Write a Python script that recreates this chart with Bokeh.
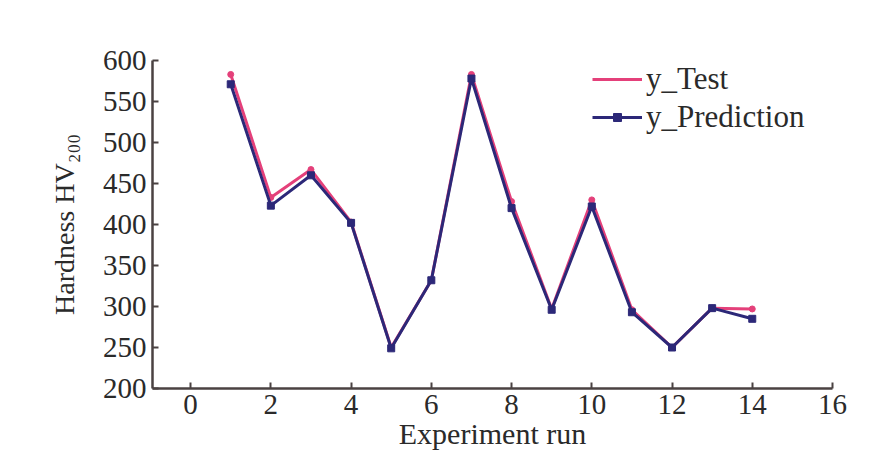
from bokeh.plotting import figure
from bokeh.models import Legend, LegendItem, FixedTicker, Range1d
from bokeh.embed import file_html
from bokeh.resources import INLINE

runs = list(range(1, 15))
y_test = [583, 433, 467, 403, 250, 332, 583, 428, 297, 430, 296, 250, 298, 297]
y_pred = [571, 423, 460, 402, 249, 332, 578, 420, 296, 422, 293, 250, 298, 285]
x_ticks = [0, 2, 4, 6, 8, 10, 12, 14, 16]
y_ticks = [200, 250, 300, 350, 400, 450, 500, 550, 600]

TEST_C = "#e4407a"
PRED_C = "#2c2878"
AXIS_C = "#4a4242"
FONT = "Liberation Serif"

p = figure(width=870, height=460, output_backend="svg", toolbar_location=None,
           x_range=Range1d(-0.95, 16), y_range=Range1d(200, 600),
           min_border_left=152, min_border_top=60, min_border_right=38, min_border_bottom=72)
p.outline_line_color = None
p.xgrid.visible = False
p.ygrid.visible = False
p.background_fill_color = "white"

r1l = p.line(runs, y_test, line_color=TEST_C, line_width=3)
r1m = p.scatter(runs, y_test, marker="circle", size=6, fill_color=TEST_C, line_color=TEST_C)
r2l = p.line(runs, y_pred, line_color=PRED_C, line_width=3)
r2m = p.scatter(runs, y_pred, marker="square", size=7, fill_color=PRED_C, line_color=PRED_C)

for ax in (p.xaxis[0], p.yaxis[0]):
    ax.axis_line_color = AXIS_C
    ax.axis_line_width = 2.5
    ax.major_tick_line_color = AXIS_C
    ax.major_tick_line_width = 2
    ax.major_tick_in = 6
    ax.major_tick_out = 0
    ax.minor_tick_line_color = None
    ax.major_label_text_font = FONT
    ax.major_label_text_font_size = "29px"
    ax.major_label_text_color = "#2a2a2a"
    ax.axis_label_text_font = FONT
    ax.axis_label_text_font_size = "30px"
    ax.axis_label_text_font_style = "normal"
    ax.axis_label_text_color = "#2a2a2a"

p.xaxis[0].ticker = FixedTicker(ticks=x_ticks)
p.yaxis[0].ticker = FixedTicker(ticks=y_ticks)
p.xaxis[0].axis_label = "Experiment run"
p.yaxis[0].axis_label = "Hardness HV\u2082\u2080\u2080"
p.yaxis[0].axis_label_text_font_size = "28px"
p.xaxis[0].major_label_standoff = 6
p.yaxis[0].major_label_standoff = 6
p.xaxis[0].axis_label_standoff = 0
p.yaxis[0].axis_label_standoff = 20

legend = Legend(items=[LegendItem(label="y_Test", renderers=[r1l]),
                       LegendItem(label="y_Prediction", renderers=[r2l, r2m])],
                location=(440, 252), orientation="vertical")
legend.border_line_color = None
legend.background_fill_alpha = 0
legend.padding = 8
legend.margin = 0
legend.spacing = 0
legend.glyph_width = 50
legend.glyph_height = 20
legend.label_height = 38
legend.label_standoff = 4
legend.label_text_font = FONT
legend.label_text_font_size = "31px"
legend.label_text_color = "#2a2a2a"
p.add_layout(legend, "center")

open("out.html", "w").write(file_html(p, INLINE))
